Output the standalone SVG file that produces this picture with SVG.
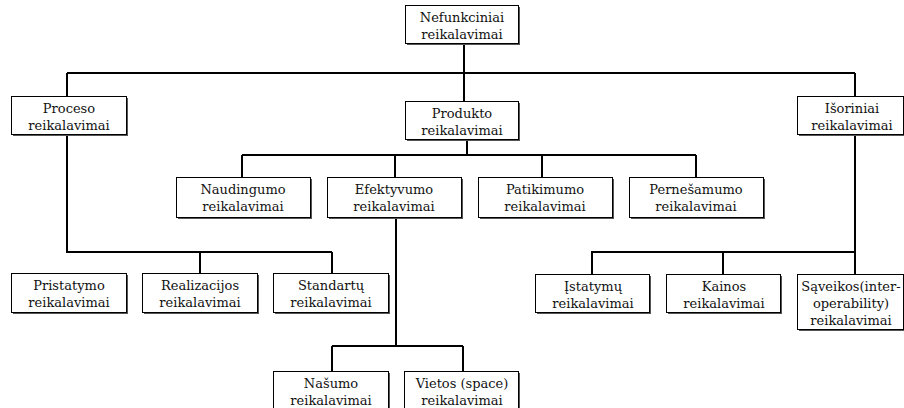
<svg xmlns="http://www.w3.org/2000/svg" width="904" height="408" viewBox="0 0 904 408">
<style>
.bg{fill:#fff}
.sh{fill:#555}
.box{fill:#fff;stroke:#000;stroke-width:1}
.t{font-family:"DejaVu Serif","Liberation Serif",serif;font-size:13px;text-anchor:middle;fill:#111}
.c{fill:none;stroke:#000;stroke-width:2}
</style>
<rect class="bg" x="0" y="0" width="904" height="408"/>
<g id="connectors">
<path class="c" d="M464 44V73M67 73H855M67 73V97M464 73V102M855 73V97"/>
<path class="c" d="M467 139V155M242 155H696M242 155V178M395 155V178M542 155V178M696 155V178"/>
<path class="c" d="M67 135V252H332M200 252V274M332 252V274"/>
<path class="c" d="M855 135V252H592V275M723 252V275M855 252V275"/>
<path class="c" d="M396 218V346M332 346H463M332 346V372M463 346V372"/>
</g>
<g id="nefunkciniai"><rect class="sh" x="407" y="7" width="113" height="38"/><rect class="box" x="405.5" y="5.5" width="113" height="38"/><text class="t" x="462" y="22">Nefunkciniai</text><text class="t" x="462" y="39">reikalavimai</text></g>
<g id="proceso"><rect class="sh" x="13" y="98" width="115" height="38"/><rect class="box" x="11.5" y="96.5" width="115" height="38"/><text class="t" x="69" y="113">Proceso</text><text class="t" x="69" y="130">reikalavimai</text></g>
<g id="produkto"><rect class="sh" x="407" y="103" width="113" height="38"/><rect class="box" x="405.5" y="101.5" width="113" height="38"/><text class="t" x="462" y="118">Produkto</text><text class="t" x="462" y="135">reikalavimai</text></g>
<g id="isoriniai"><rect class="sh" x="799" y="98" width="106" height="38"/><rect class="box" x="797.5" y="96.5" width="106" height="38"/><text class="t" x="852" y="113">Išoriniai</text><text class="t" x="852" y="130">reikalavimai</text></g>
<g id="naudingumo"><rect class="sh" x="178" y="179" width="134" height="40"/><rect class="box" x="176.5" y="177.5" width="134" height="40"/><text class="t" x="243" y="194">Naudingumo</text><text class="t" x="243" y="211">reikalavimai</text></g>
<g id="efektyvumo"><rect class="sh" x="329" y="179" width="134" height="40"/><rect class="box" x="327.5" y="177.5" width="134" height="40"/><text class="t" x="394" y="194">Efektyvumo</text><text class="t" x="394" y="211">reikalavimai</text></g>
<g id="patikimumo"><rect class="sh" x="480" y="179" width="134" height="40"/><rect class="box" x="478.5" y="177.5" width="134" height="40"/><text class="t" x="545" y="194">Patikimumo</text><text class="t" x="545" y="211">reikalavimai</text></g>
<g id="pernesamumo"><rect class="sh" x="631" y="179" width="134" height="40"/><rect class="box" x="629.5" y="177.5" width="134" height="40"/><text class="t" x="696" y="194">Pernešamumo</text><text class="t" x="696" y="211">reikalavimai</text></g>
<g id="pristatymo"><rect class="sh" x="13" y="275" width="115" height="39"/><rect class="box" x="11.5" y="273.5" width="115" height="39"/><text class="t" x="69" y="290">Pristatymo</text><text class="t" x="69" y="307">reikalavimai</text></g>
<g id="realizacijos"><rect class="sh" x="144" y="275" width="115" height="39"/><rect class="box" x="142.5" y="273.5" width="115" height="39"/><text class="t" x="200" y="290">Realizacijos</text><text class="t" x="200" y="307">reikalavimai</text></g>
<g id="standartu"><rect class="sh" x="275" y="275" width="115" height="39"/><rect class="box" x="273.5" y="273.5" width="115" height="39"/><text class="t" x="331" y="290">Standartų</text><text class="t" x="331" y="307">reikalavimai</text></g>
<g id="istatymu"><rect class="sh" x="537" y="276" width="114" height="38"/><rect class="box" x="535.5" y="274.5" width="114" height="38"/><text class="t" x="593" y="291">Įstatymų</text><text class="t" x="593" y="308">reikalavimai</text></g>
<g id="kainos"><rect class="sh" x="668" y="276" width="114" height="38"/><rect class="box" x="666.5" y="274.5" width="114" height="38"/><text class="t" x="724" y="291">Kainos</text><text class="t" x="724" y="308">reikalavimai</text></g>
<g id="saveikos"><rect class="sh" x="799" y="276" width="106" height="55"/><rect class="box" x="797.5" y="274.5" width="106" height="55"/><text class="t" x="851" y="291">Sąveikos(inter-</text><text class="t" x="851" y="308">operability)</text><text class="t" x="851" y="325">reikalavimai</text></g>
<g id="nasumo"><rect class="sh" x="275" y="373" width="115" height="40"/><rect class="box" x="273.5" y="371.5" width="115" height="40"/><text class="t" x="331" y="388">Našumo</text><text class="t" x="331" y="405">reikalavimai</text></g>
<g id="vietos"><rect class="sh" x="406" y="373" width="114" height="40"/><rect class="box" x="404.5" y="371.5" width="114" height="40"/><text class="t" x="462" y="388">Vietos (space)</text><text class="t" x="462" y="405">reikalavimai</text></g>
</svg>
